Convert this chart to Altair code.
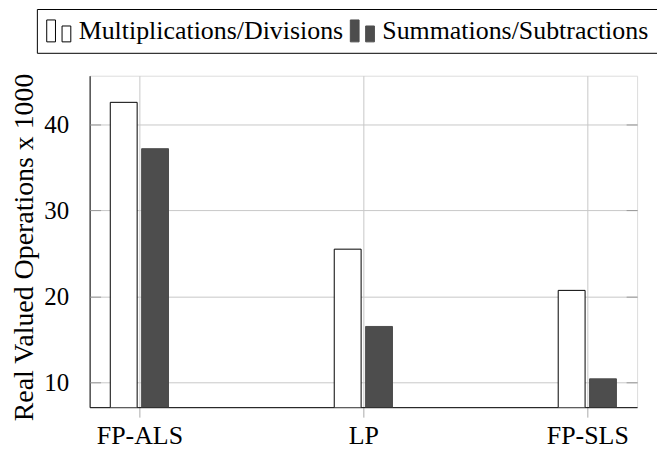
import altair as alt
import pandas as pd

categories = ["FP-ALS", "LP", "FP-SLS"]
series_names = ["Multiplications/Divisions", "Summations/Subtractions"]
mult_values = [42.6, 25.5, 20.7]
sum_values = [37.2, 16.5, 10.4]
y_ticks = [10, 20, 30, 40]

rows = []
for i, c in enumerate(categories):
    rows.append({"cat": c, "idx": i, "series": series_names[0], "value": mult_values[i]})
    rows.append({"cat": c, "idx": i, "series": series_names[1], "value": sum_values[i]})
df = pd.DataFrame(rows)

SERIF = "Liberation Serif, Times New Roman, Times, serif"
label_expr = " : ".join(
    [f"datum.value == {i} ? '{c}'" for i, c in enumerate(categories)]
) + " : ''"

yscale = alt.Scale(domain=[7.1, 45.7], zero=False, nice=False)
xscale = alt.Scale(domain=[-0.2, 2.2], nice=False, zero=False)

legend = alt.Legend(
    title=None,
    orient="none",
    legendX=-53,
    legendY=-67,
    direction="horizontal",
    labelFont=SERIF,
    labelFontSize=26,
    labelColor="black",
    labelLimit=500,
    labelOffset=7,
    columnPadding=4,
    symbolType="M-1.1,-1 L-0.3,-1 L-0.3,1 L-1.1,1 Z M0.3,-0.45 L1.1,-0.45 L1.1,1 L0.3,1 Z",
    symbolSize=484,
    symbolStrokeWidth=1,
    padding=9,
    strokeColor="black",
    fillColor="white",
)

base = alt.Chart(df).transform_calculate(
    pos=f"datum.idx + (datum.series == '{series_names[0]}' ? -0.07 : 0.07)"
)

bars = base.mark_bar(size=27, clip=True, strokeWidth=1).encode(
    x=alt.X(
        "pos:Q",
        scale=xscale,
        axis=alt.Axis(
            values=[0, 1, 2],
            labelExpr=label_expr,
            title=None,
            labelFont=SERIF,
            labelFontSize=26,
            labelColor="black",
            labelPadding=5,
            tickSize=10,
            tickColor="#aaaaaa",
            domainColor="black",
            gridColor="#c8c8c8",
        ),
    ),
    y=alt.Y(
        "value:Q",
        scale=yscale,
        axis=alt.Axis(
            orient="left",
            values=y_ticks,
            title="Real Valued Operations x 1000",
            titleFont=SERIF,
            titleFontSize=28,
            titleFontWeight="normal",
            titleColor="black",
            titlePadding=5,
            titleY=172,
            labelFont=SERIF,
            labelFontSize=25,
            labelColor="black",
            labelPadding=21,
            ticks=False,
            domainColor="black",
            gridColor="#c8c8c8",
        ),
    ),
    color=alt.Color(
        "series:N",
        scale=alt.Scale(domain=series_names, range=["white", "#4d4d4d"]),
        legend=legend,
    ),
    stroke=alt.Stroke(
        "series:N",
        scale=alt.Scale(domain=series_names, range=["black", "#4d4d4d"]),
        legend=legend,
    ),
)

ticks_left = base.mark_point(opacity=0).encode(
    y=alt.Y(
        "value:Q",
        scale=yscale,
        axis=alt.Axis(
            orient="left",
            offset=-11,
            tickSize=11,
            values=y_ticks,
            labels=False,
            domain=False,
            grid=False,
            title=None,
            tickColor="#999999",
        ),
    )
)

ticks_right = base.mark_point(opacity=0).encode(
    y=alt.Y(
        "value:Q",
        scale=yscale,
        axis=alt.Axis(
            orient="right",
            offset=-11,
            tickSize=11,
            values=y_ticks,
            labels=False,
            domain=False,
            grid=False,
            title=None,
            tickColor="#999999",
        ),
    )
)

chart = (
    alt.layer(bars, ticks_left, ticks_right)
    .resolve_axis(y="independent")
    .properties(
        width=550,
        height=333,
        autosize=alt.AutoSizeParams(type="none"),
        padding={"left": 82, "top": 67, "right": 20, "bottom": 42},
    )
    .configure_view(stroke="black", strokeWidth=1)
    .configure(background="white")
)

chart.save("out.html", embed_options={"renderer": "svg", "actions": False})
